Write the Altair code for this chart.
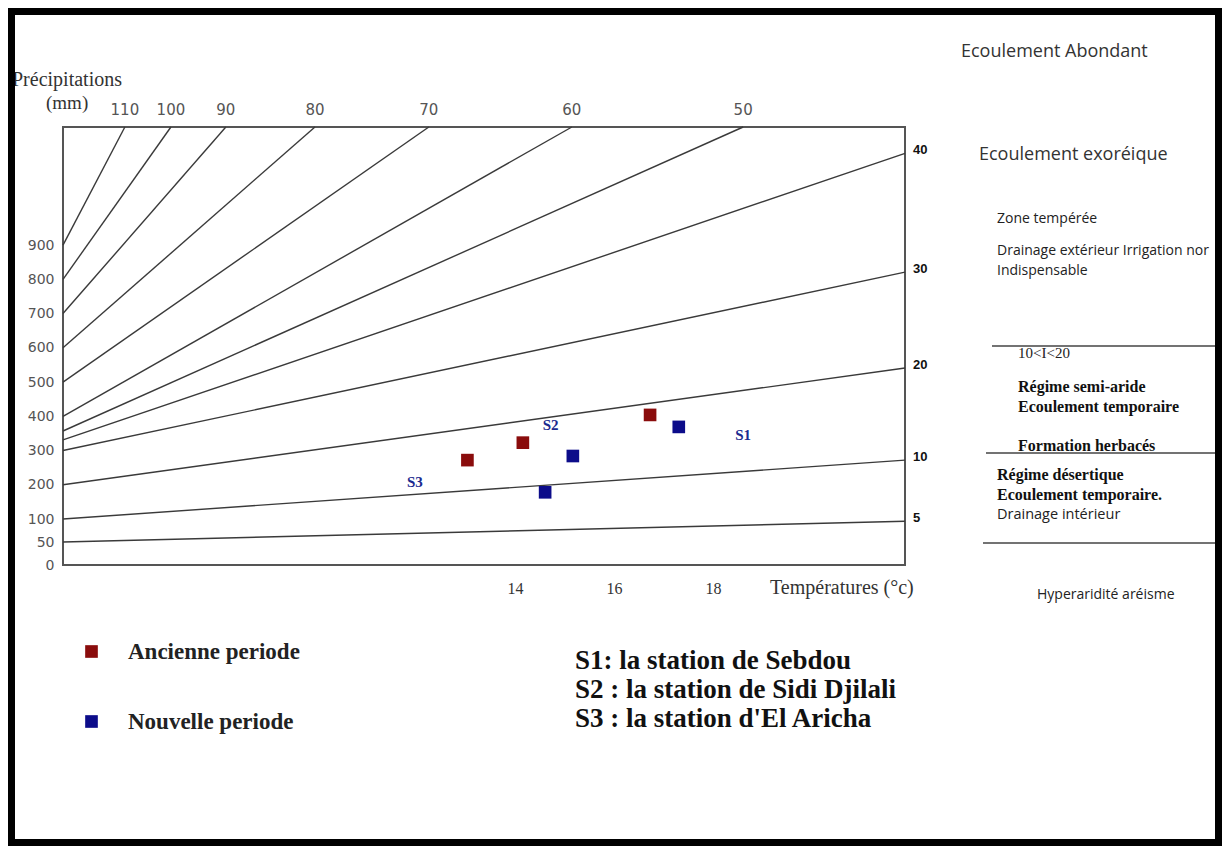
import altair as alt
import pandas as pd

# ------------------------------------------------------------------ data
# De Martonne aridity-index lines (index value, precipitation at the left edge,
# and where each line leaves the frame: top edge or right edge)
INDEX = [110, 100, 90, 80, 70, 60, 50, 40, 30, 20, 10, 5]
START_P = [900, 800, 700, 600, 500, 400, 357, 331, 300, 200, 100, 50]
END_T = [6.12, 7.05, 8.16, 9.96, 12.26, 15.15, 18.61, 21.88, 21.88, 21.88, 21.88, 21.88]
END_P = [1245, 1245, 1245, 1245, 1245, 1245, 1245, 1168, 821, 541, 272, 95]
EXIT = ["top", "top", "top", "top", "top", "top", "top", "right", "right", "right", "right", "right"]

T_MIN, T_MAX = 4.87, 21.88
P_MIN, P_BREAK, P_TOP = 0, 100, 1245

X_TICKS = [14, 16, 18]
Y_TICKS = [0, 50, 100, 200, 300, 400, 500, 600, 700, 800, 900]

PERIODS = ["Ancienne periode", "Nouvelle periode"]
PERIOD_COLORS = ["#8a0c0c", "#0c0c8a"]
PT_PERIOD = ["Ancienne periode", "Ancienne periode", "Ancienne periode",
             "Nouvelle periode", "Nouvelle periode", "Nouvelle periode"]
PT_T = [13.04, 14.16, 16.73, 15.17, 17.31, 14.61]
PT_P = [272, 323, 404, 284, 369, 178]

STATIONS = ["S1", "S2", "S3"]
ST_T = [18.61, 14.72, 11.98]
ST_P = [345, 374, 209]
ST_NAMES = ["S1: la station de Sebdou",
            "S2 : la station de Sidi Djilali",
            "S3 : la station d'El Aricha"]

# ------------------------------------------------------------------ tables
line_rows = []
for i, idx in enumerate(INDEX):
    line_rows.append({"I": idx, "T": T_MIN, "P": START_P[i], "k": 0})
    line_rows.append({"I": idx, "T": END_T[i], "P": END_P[i], "k": 1})
lines_df = pd.DataFrame(line_rows)

ends_df = pd.DataFrame({"I": INDEX, "T": END_T, "P": END_P, "exit": EXIT})
top_df = ends_df[ends_df["exit"] == "top"]
right_df = ends_df[ends_df["exit"] == "right"]

pts_df = pd.DataFrame({"period": PT_PERIOD, "T": PT_T, "P": PT_P})
st_df = pd.DataFrame({"s": STATIONS, "T": ST_T, "P": ST_P})
ONE = pd.DataFrame({"_": [0]})

# ------------------------------------------------------------------ layout
W, H = 842, 438          # plot frame
OX, OY = 63, 127         # frame origin on the page
SVG_W, SVG_H = 1214, 838
PAD = {"left": 55, "top": 119, "right": SVG_W - 55 - W, "bottom": SVG_H - 119 - H}

XS = alt.Scale(domain=[T_MIN, T_MAX], nice=False, zero=False)
YS = alt.Scale(domain=[P_MIN, P_BREAK, P_TOP], range=[H, H - 46, 0], nice=False, zero=False)

AX = alt.Axis(values=X_TICKS, ticks=False, domain=False, grid=False, title=None,
              labelFont="Liberation Serif", labelFontSize=16, labelColor="#333",
              labelPadding=15, labelOverlap=False, labelFlush=False)
AY = alt.Axis(values=Y_TICKS, ticks=False, domain=False, grid=False, title=None,
              labelFont="DejaVu Sans", labelFontSize=14, labelColor="#555",
              labelPadding=9, labelOverlap=False, labelFlush=False)

X = alt.X("T:Q", scale=XS, axis=AX)
Y = alt.Y("P:Q", scale=YS, axis=AY)

lines = alt.Chart(lines_df).mark_line(color="#3a3a3a", strokeWidth=1.4).encode(
    x=X, y=Y, detail="I:N", order="k:Q")

top_labels = alt.Chart(top_df).mark_text(
    font="DejaVu Sans", fontSize=15, color="#555", dy=-17, align="center", baseline="middle"
).encode(x=X, y=Y, text="I:Q")

right_labels = alt.Chart(right_df).mark_text(
    font="Liberation Sans", fontSize=13, fontWeight="bold", color="#111", dx=8, dy=-3,
    align="left", baseline="middle"
).encode(x=X, y=Y, text="I:Q")

points = alt.Chart(pts_df).mark_square(size=160, opacity=1, filled=True).encode(
    x=X, y=Y,
    color=alt.Color("period:N", scale=alt.Scale(domain=PERIODS, range=PERIOD_COLORS),
                    legend=alt.Legend(title=None, orient="none", legendX=17, legendY=513,
                                      symbolType="square", symbolSize=160, symbolStrokeWidth=0,
                                      labelFont="Liberation Serif", labelFontSize=23,
                                      labelFontWeight="bold", labelColor="#222",
                                      labelOffset=25, rowPadding=46, padding=0,
                                      labelLimit=400)))

station_labels = alt.Chart(st_df).mark_text(
    font="Liberation Serif", fontSize=15, fontWeight="bold", color="#1b2a8f",
    align="center", baseline="middle"
).encode(x=X, y=Y, text="s:N")


def note(text, x, y, font="Liberation Serif", size=14, weight="normal",
         color="#222", align="left"):
    return alt.Chart(ONE).mark_text(
        text=text, font=font, fontSize=size, fontWeight=weight, color=color,
        align=align, baseline="middle"
    ).encode(x=alt.value(x - OX), y=alt.value(y - OY))


def hline(x1, x2, y):
    return alt.Chart(ONE).mark_rule(color="#444", strokeWidth=1.5).encode(
        x=alt.value(x1 - OX), x2=alt.value(x2 - OX), y=alt.value(y - OY))


notes = [
    note("Précipitations", 12, 80, size=20, color="#333"),
    note("(mm)", 46, 103, size=19, color="#333"),
    note("Températures (°c)", 770, 588, size=20, color="#333"),
    # right panel
    note("Ecoulement Abondant", 961, 52, font="Open Sans", size=18, color="#333"),
    note("Ecoulement exoréique", 979, 155, font="Open Sans", size=18, color="#333"),
    note("Zone tempérée", 997, 219, font="Open Sans", size=14, color="#222"),
    note("Drainage extérieur Irrigation nor", 997, 251, font="Open Sans", size=14, color="#222"),
    note("Indispensable", 997, 271, font="Open Sans", size=14, color="#222"),
    note("10<I<20", 1018, 353, size=15, color="#222"),
    note("Régime semi-aride", 1018, 387, size=16, weight="bold", color="#111"),
    note("Ecoulement temporaire", 1018, 407, size=16, weight="bold", color="#111"),
    note("Formation herbacés", 1018, 446, size=16, weight="bold", color="#111"),
    note("Régime désertique", 997, 475, size=16, weight="bold", color="#111"),
    note("Ecoulement temporaire.", 997, 495, size=16, weight="bold", color="#111"),
    note("Drainage intérieur", 997, 515, font="Open Sans", size=14.5, color="#222"),
    note("Hyperaridité aréisme", 1037, 595, font="Open Sans", size=14, color="#222"),
    # station key
    note(ST_NAMES[0], 575, 661, size=27, weight="bold", color="#111"),
    note(ST_NAMES[1], 575, 690, size=27, weight="bold", color="#111"),
    note(ST_NAMES[2], 575, 719, size=27, weight="bold", color="#111"),
]

rules = [hline(992, 1218, 346), hline(986, 1218, 453), hline(983, 1218, 543)]

border = alt.Chart(ONE).mark_rect(fill="transparent", stroke="black", strokeWidth=7).encode(
    x=alt.value(3.5 - PAD["left"]), x2=alt.value(SVG_W - 3.5 - PAD["left"]),
    y=alt.value(3.5 - PAD["top"]), y2=alt.value(SVG_H - 3.5 - PAD["top"]))

chart = alt.layer(
    lines, top_labels, right_labels, points, station_labels, *notes, *rules, border
).properties(
    width=W, height=H, padding=PAD, autosize=alt.AutoSizeParams(type="none"),
    background="white"
).configure_view(stroke="#555", strokeWidth=2)

chart.save("out.html", embed_options={"renderer": "svg", "actions": False})
